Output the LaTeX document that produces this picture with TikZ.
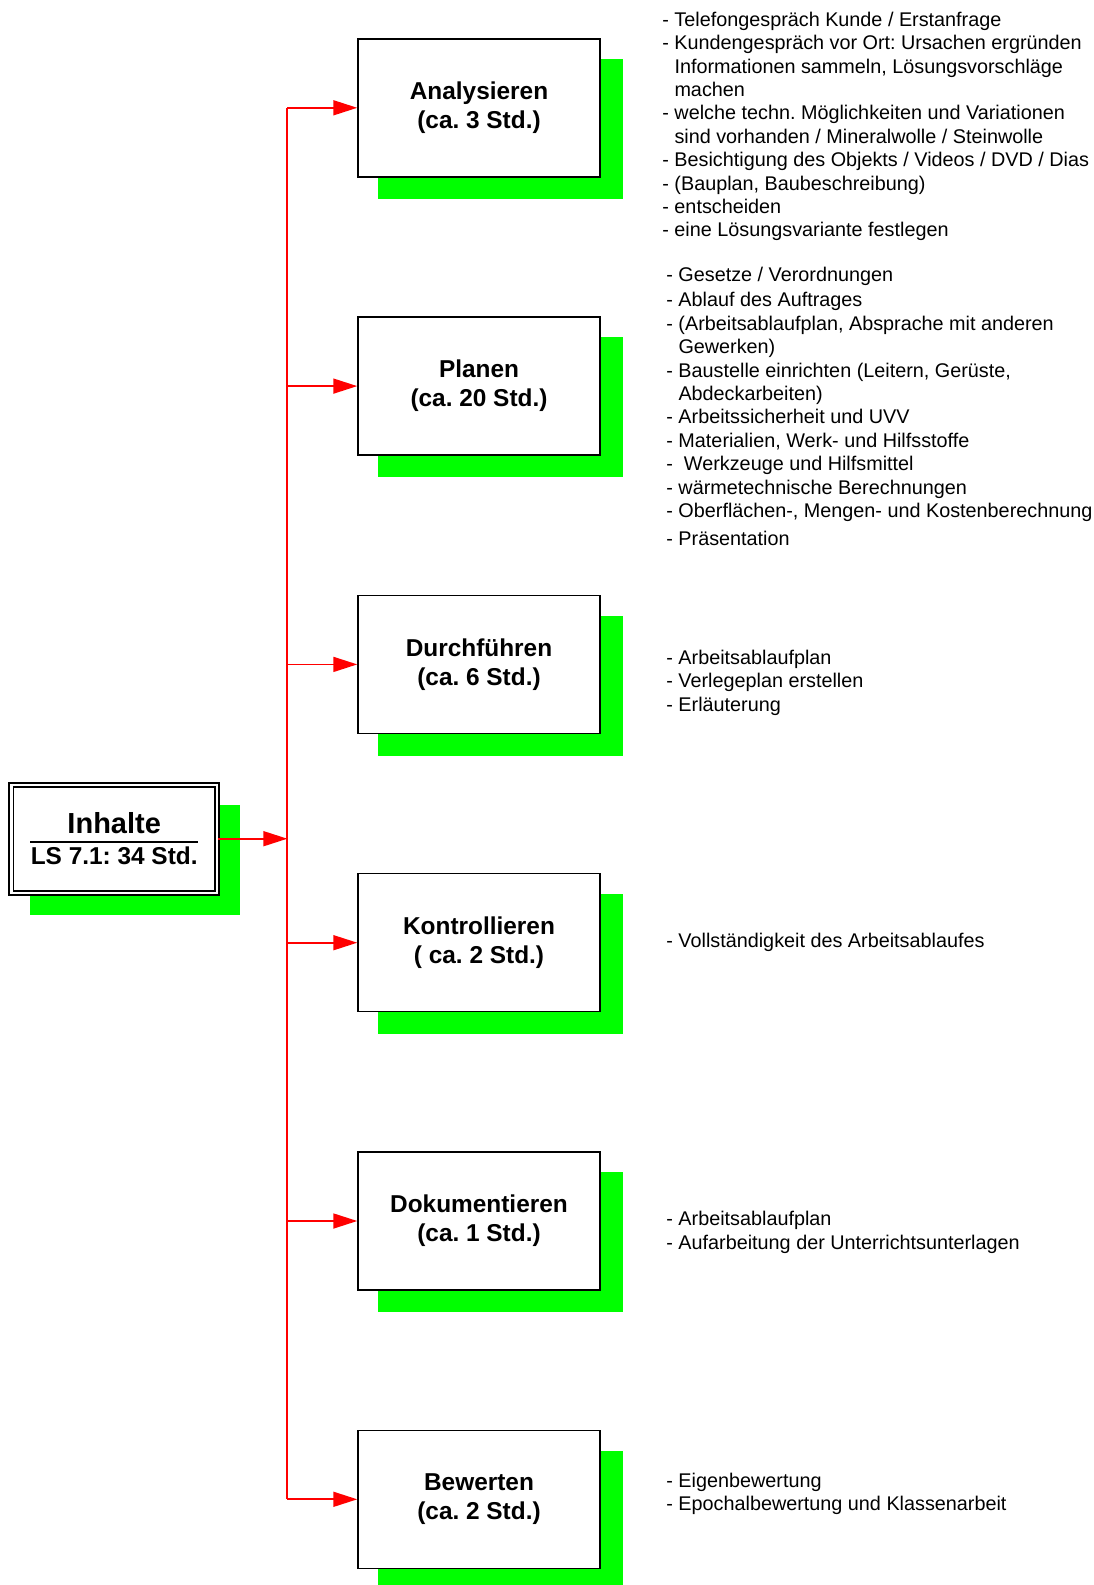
\documentclass[tikz,border=0pt]{standalone}
\usepackage{fontspec}
\setmainfont{Liberation Sans}
\usepackage{tikz}
\usetikzlibrary{arrows.meta,positioning,shadows}
\definecolor{shadegreen}{RGB}{0,255,0}
\definecolor{linkred}{RGB}{255,0,0}
\frenchspacing

\begin{document}
\begin{tikzpicture}[
  x=0.5pt, y=-0.5pt,
  node distance=69.4pt,
  stage/.style={rectangle, draw=black, line width=0.75pt, fill=white,
    minimum width=121pt, minimum height=69pt, align=center,
    font=\fontsize{12.2}{14.5}\selectfont\bfseries,
    drop shadow={shadow xshift=10.5pt, shadow yshift=-10.5pt,
      shadow scale=1.015, fill=shadegreen, opacity=1}},
  overview/.style={rectangle, draw=black, double, double distance=1.2pt,
    line width=0.85pt, fill=white, minimum width=102.85pt,
    minimum height=54pt, align=center,
    font=\fontsize{12.2}{11}\selectfont\bfseries,
    drop shadow={shadow xshift=10.3pt, shadow yshift=-10.3pt,
      shadow scale=1.02, fill=shadegreen, opacity=1}},
  notes/.style={anchor=north west, inner sep=0pt, align=left,
    font=\fontsize{9.9}{11.7}\selectfont},
  arr/.style={-{Triangle[length=12pt,width=7.5pt]}, draw=linkred,
    line width=0.85pt},
  trunk/.style={draw=linkred, line width=0.85pt}
]
  \useasboundingbox (0,0) rectangle (1093,1585);

  % Overview box
  \node[overview] (inh) at (114.2,838.7)
    {{\fontsize{14.5}{11}\selectfont Inhalte}\\[-6.35pt]\rule{84pt}{1pt}\\LS 7.1: 34 Std.};

  % Phases
  \node[stage] (ana) at (479,107.8) {Analysieren\\(ca. 3 Std.)};
  \node[stage, below=of ana] (pla) {Planen\\(ca. 20 Std.)};
  \node[stage, below=of pla] (dur) {Durchführen\\(ca. 6 Std.)};
  \node[stage, below=of dur] (kon) {Kontrollieren\\( ca. 2 Std.)};
  \node[stage, below=of kon] (dok) {Dokumentieren\\(ca. 1 Std.)};
  \node[stage, below=of dok] (bew) {Bewerten\\(ca. 2 Std.)};

  % Notes per phase
  \node[notes] (anatxt) at (662,9.6) {\strut- Telefongespräch Kunde / Erstanfrage\\
    - Kundengespräch vor Ort: Ursachen ergründen\\
    \hphantom{- }Informationen sammeln, Lösungsvorschläge\\
    \hphantom{- }machen\\
    - welche techn. Möglichkeiten und Variationen\\
    \hphantom{- }sind vorhanden / Mineralwolle / Steinwolle\\
    - Besichtigung des Objekts / Videos / DVD / Dias\\
    - (Bauplan, Baubeschreibung)\\
    - entscheiden\\
    - eine Lösungsvariante festlegen};
  \node[notes] (platxt) at (666,264.6) {\strut- Gesetze / Verordnungen\\[1.1pt]
    - Ablauf des Auftrages\\
    - (Arbeitsablaufplan, Absprache mit anderen\\
    \hphantom{- }Gewerken)\\
    - Baustelle einrichten (Leitern, Gerüste,\\
    \hphantom{- }Abdeckarbeiten)\\
    - Arbeitssicherheit und UVV\\
    - Materialien, Werk- und Hilfsstoffe\\
    - \ Werkzeuge und Hilfsmittel\\
    - wärmetechnische Berechnungen\\
    - Oberflächen-, Mengen- und Kostenberechnung\\[2.4pt]
    - Präsentation};
  \node[notes] (durtxt) at (666,647.5) {\strut- Arbeitsablaufplan\\
    - Verlegeplan erstellen\\
    - Erläuterung};
  \node[notes] (kontxt) at (666,930.8) {\strut- Vollständigkeit des Arbeitsablaufes};
  \node[notes] (doktxt) at (666,1209) {\strut- Arbeitsablaufplan\\
    - Aufarbeitung der Unterrichtsunterlagen};
  \node[notes] (bewtxt) at (666,1470.8) {\strut- Eigenbewertung\\
    - Epochalbewertung und Klassenarbeit};

  % Arrows
  \coordinate (split) at (287.3,838.7);
  \draw[arr] (inh) -- (split);
  \draw[trunk] (split |- ana.west) -- (split |- bew.west);
  \foreach \n in {ana, pla, dur, kon, dok, bew} {
    \draw[arr] (split |- \n.west) -- (\n.west);
  }
\end{tikzpicture}
\end{document}
